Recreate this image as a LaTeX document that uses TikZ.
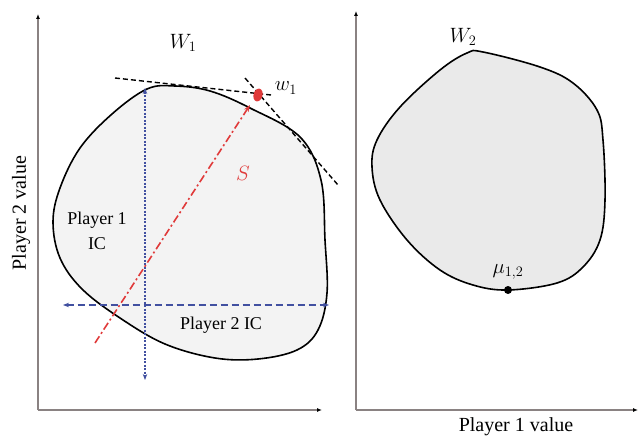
\documentclass[tikz,border=0pt]{standalone}
\usepackage{fontspec}
\setmainfont{Liberation Serif}
\usetikzlibrary{calc, positioning, shapes.geometric, arrows.meta}
\definecolor{axisgrey}{HTML}{8A8282}
\definecolor{icblue}{HTML}{4150A0}
\definecolor{ptred}{HTML}{E03A3A}
\definecolor{setfill}{HTML}{EAEAEA}
\newcommand{\fsAxis}{\fontsize{20}{24}\selectfont}
\newcommand{\fsLab}{\fontsize{18}{22}\selectfont}
\newcommand{\fsMath}{\fontsize{20}{24}\selectfont}

\tikzset{
  axisline/.style={axisgrey, line width=1.4pt, -{Latex[length=5pt,width=4pt,color=black]}},
  setline/.style={black, line width=1.6pt},
  tangent/.style={black, line width=1.4pt, dash pattern=on 5pt off 3pt},
  icvert/.style={icblue, line width=1.5pt, dash pattern=on 2pt off 1.5pt, {Stealth[length=6pt]}-{Stealth[length=6pt]}},
  ichor/.style={icblue, line width=1.5pt, dash pattern=on 7pt off 4pt, {Stealth[length=6pt]}-{Stealth[length=6pt]}},
  sline/.style={ptred, line width=1.6pt, dash pattern=on 8pt off 3pt on 2pt off 3pt, -{Stealth[length=7pt]}}
}

\begin{document}
\begin{tikzpicture}[x=1pt, y=-1pt, every node/.style={font=\fsLab}]
  \useasboundingbox (0,0) rectangle (639,438);

  % axes
  \coordinate (o1) at (38,410);
  \coordinate (o2) at (356,410);
  \draw[axisline] (o1) -- (38,14);
  \draw[axisline] (o1) -- (322,410);
  \draw[axisline] (o2) -- (356,11);
  \draw[axisline] (o2) -- (638,410);
  \node[font=\fsAxis, rotate=90] (ylab) at (21,213) {Player 2 value};
  \node[font=\fsAxis] (xlab) at (516,427) {Player 1 value};

  % left set W1
  \filldraw[setline, fill=setfill!55] plot[smooth cycle, tension=0.6] coordinates {
    (147,89) (112,114) (80,148) (60,188) (53,222) (60,258)
    (82,289) (120,318) (165,344) (215,358) (258,359)
    (297,350) (318,330) (327,293) (325,240) (321,180) (300,137)
    (250,108) (210,91) (175,86)};

  % right set W2
  \filldraw[setline, fill=setfill] plot[smooth cycle, tension=0.6] coordinates {
    (467,53) (483,52) (540,67) (573,83) (597,110) (603,140) (605,200)
    (600,240) (583,267) (557,283) (508,290) (473,285) (440,270) (407,240)
    (380,200) (372,167) (377,140) (400,107) (440,70)};

  % tangent lines at w1
  \coordinate (ta) at (115,78);
  \coordinate (tb) at (271,95);
  \coordinate (tc) at (245,78);
  \coordinate (td) at (338,185);
  \draw[tangent] (ta) -- (tb);
  \draw[tangent] (tc) -- (td);

  % incentive constraints
  \coordinate (p1top) at (145,88);
  \coordinate (p1bot) at (145,380);
  \coordinate (p2lft) at (63,305);
  \coordinate (p2rgt) at (329,305);
  \draw[icvert] (p1top) -- (p1bot);
  \draw[ichor] (p2lft) -- (p2rgt);

  % point w1 and the line S
  \node[ellipse, fill=ptred, minimum width=9pt, minimum height=13pt, inner sep=0pt, rotate=-15] (wdot) at (258,95) {};
  \coordinate (sbeg) at (95,343);
  \draw[sline] (sbeg) -- (250,105);

  % point mu
  \node[circle, fill=black, minimum size=8pt, inner sep=0pt] (mudot) at (508,290) {};

  % labels
  \node[font=\fsMath] (wone) at (183,43) {$W_1$};
  \node[font=\fsMath] (wtwo) at (463,37) {$W_2$};
  \node[font=\fsMath] (wsmall) at (286,88) {$w_1$};
  \node[font=\fsMath, text=ptred] (slab) at (243,173) {$S$};
  \node[font=\fsMath, above=3pt of mudot] (mulab) {$\mu_{1,2}$};
  \node[align=center, font=\fsLab\linespread{1.15}\selectfont] (p1ic) at (97,231) {Player 1\\IC};
  \node (p2ic) at (221,325) {Player 2 IC};
\end{tikzpicture}
\end{document}
